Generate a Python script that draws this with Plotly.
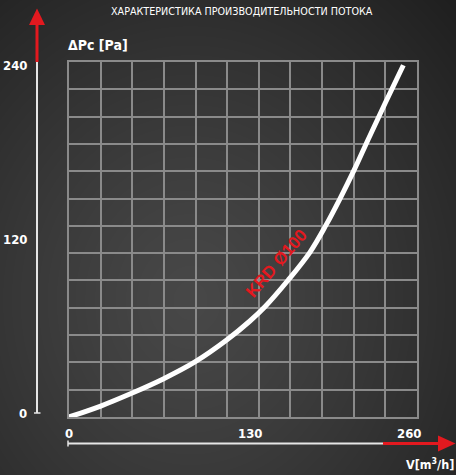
import base64, struct, zlib
import numpy as np
import plotly.graph_objects as go

# ---- data ----
flow = [0, 23.7, 46.8, 70.4, 94.1, 117.8, 135.2, 146.4, 163.8, 180.1, 192.0, 202.5, 212.9, 223.6, 236.1, 249.8]
pressure = [0, 7.4, 16.0, 25.7, 37.2, 52.0, 64.9, 74.5, 92.6, 111.5, 129.7, 147.7, 166.7, 187.8, 211.9, 237.8]
x_ticks = [0, 130, 260]
y_ticks = [0, 120, 240]
series_name = "KRD Ø100"
title = "ХАРАКТЕРИСТИКА ПРОИЗВОДИТЕЛЬНОСТИ ПОТОКА"
x_title = "V[m<sup>3</sup>/h]"
y_title = "ΔPc [Pa]"

W, H = 456, 475
L, R, T, B = 69, 39, 62, 58
PW, PH = W - L - R, H - T - B

def px(x):  # pixel -> paper x
    return (x - L) / PW

def py(y):  # pixel -> paper y
    return (H - B - y) / PH

# ---- background gradient image ----
yy, xx = np.mgrid[0:H, 0:W].astype(float)
d = np.sqrt(((xx - 190) / 330) ** 2 + ((yy - 300) / 380) ** 2)
c = 72 - 42 * np.clip(d, 0, 1.15) ** 1.2 / 1.15 ** 1.2
img = np.clip(c, 0, 255).astype(np.uint8)
rgb = np.stack([img, img, img], axis=2)

def png(arr):
    h, w, _ = arr.shape
    raw = b"".join(b"\x00" + arr[i].tobytes() for i in range(h))
    def chunk(t, data):
        return struct.pack(">I", len(data)) + t + data + struct.pack(">I", zlib.crc32(t + data) & 0xffffffff)
    return (b"\x89PNG\r\n\x1a\n" + chunk(b"IHDR", struct.pack(">IIBBBBB", w, h, 8, 2, 0, 0, 0))
            + chunk(b"IDAT", zlib.compress(raw, 9)) + chunk(b"IEND", b""))

bg = "data:image/png;base64," + base64.b64encode(png(rgb)).decode()

NARROW = "Liberation Sans Narrow, DejaVu Sans Condensed, Arial Narrow, Roboto, sans-serif"
GRID = "#8a8a8a"
RED = "#e3191f"

fig = go.Figure()
fig.add_trace(go.Scatter(x=flow, y=pressure, mode="lines",
                         line=dict(color="white", width=5, shape="spline", smoothing=1.0),
                         hoverinfo="skip", showlegend=False))

fig.update_xaxes(range=[0, 260], tick0=0, dtick=260 / 11, showgrid=True, gridcolor=GRID, gridwidth=2,
                 showticklabels=False, zeroline=False, showline=True, mirror=True,
                 linecolor=GRID, linewidth=2, ticks="", fixedrange=True)
fig.update_yaxes(range=[0, 240], tick0=0, dtick=240 / 13, showgrid=True, gridcolor=GRID, gridwidth=2,
                 showticklabels=False, zeroline=False, showline=True, mirror=True,
                 linecolor=GRID, linewidth=2, ticks="", fixedrange=True)

shapes = []
# y axis arrow line
shapes.append(dict(type="line", xref="paper", yref="paper", x0=px(37), x1=px(37), y0=py(413), y1=py(62),
                   line=dict(color="#e6e6e6", width=2)))
shapes.append(dict(type="line", xref="paper", yref="paper", x0=px(34), x1=px(40.5), y0=py(413), y1=py(413),
                   line=dict(color="#e6e6e6", width=1.5)))
shapes.append(dict(type="line", xref="paper", yref="paper", x0=px(37), x1=px(37), y0=py(62), y1=py(24),
                   line=dict(color=RED, width=3)))
shapes.append(dict(type="path", xref="paper", yref="paper",
                   path=f"M {px(29)} {py(25)} L {px(45)} {py(25)} L {px(37)} {py(8.5)} Z",
                   fillcolor=RED, line=dict(color=RED, width=0)))
# x axis arrow line
shapes.append(dict(type="line", xref="paper", yref="paper", x0=px(68), x1=px(383), y0=py(443.5), y1=py(443.5),
                   line=dict(color="#e6e6e6", width=2)))
shapes.append(dict(type="line", xref="paper", yref="paper", x0=px(68), x1=px(68), y0=py(440.5), y1=py(446.5),
                   line=dict(color="#e6e6e6", width=1.5)))
shapes.append(dict(type="line", xref="paper", yref="paper", x0=px(383), x1=px(440), y0=py(443.5), y1=py(443.5),
                   line=dict(color=RED, width=3)))
shapes.append(dict(type="path", xref="paper", yref="paper",
                   path=f"M {px(438)} {py(435.5)} L {px(438)} {py(451.5)} L {px(455.5)} {py(443.5)} Z",
                   fillcolor=RED, line=dict(color=RED, width=0)))

ann = []
lab_font = dict(family=NARROW, size=13, color="white")
x_shift = [0, 7, -8]
for v, s in zip(x_ticks, x_shift):
    ann.append(dict(x=v, xref="x", y=py(433), yref="paper", text=f"<b>{v}</b>", showarrow=False,
                    xanchor="center", yanchor="middle", xshift=s, font=lab_font))
y_shift = [4, 0, -3]
for v, s in zip(y_ticks, y_shift):
    ann.append(dict(x=px(29), xref="paper", y=v, yref="y", text=f"<b>{v}</b>", showarrow=False,
                    xanchor="right", yanchor="middle", yshift=s, font=lab_font))
ann.append(dict(x=px(242), y=py(12), xref="paper", yref="paper", text=title, showarrow=False,
                xanchor="center", yanchor="middle", font=dict(family=NARROW, size=10.7, color="white")))
ann.append(dict(x=px(66), y=py(45), xref="paper", yref="paper", text=f"<b>{y_title}</b>", showarrow=False,
                xanchor="left", yanchor="middle", font=dict(family=NARROW, size=14, color="white")))
ann.append(dict(x=px(456), y=py(464), xref="paper", yref="paper", text=f"<b>{x_title}</b>", showarrow=False,
                xanchor="right", yanchor="middle", font=dict(family=NARROW, size=12.5, color="white")))
ann.append(dict(x=px(276.5), y=py(263.5), xref="paper", yref="paper", text=f"<b>{series_name}</b>", showarrow=False,
                textangle=-49, xanchor="center", yanchor="middle",
                font=dict(family="Liberation Sans, Arial, sans-serif", size=17, color=RED)))

fig.update_layout(
    width=W, height=H, margin=dict(l=L, r=R, t=T, b=B),
    paper_bgcolor="#303030", plot_bgcolor="rgba(0,0,0,0)",
    shapes=shapes, annotations=ann, showlegend=False,
    images=[dict(source=bg, xref="paper", yref="paper", x=px(0), y=py(0), sizex=W / PW, sizey=H / PH,
                 xanchor="left", yanchor="top", sizing="stretch", layer="below")],
)
fig.write_html("out.html", config=dict(displayModeBar=False),
               post_script="document.body.style.margin='0';document.body.style.background='#303030';")
